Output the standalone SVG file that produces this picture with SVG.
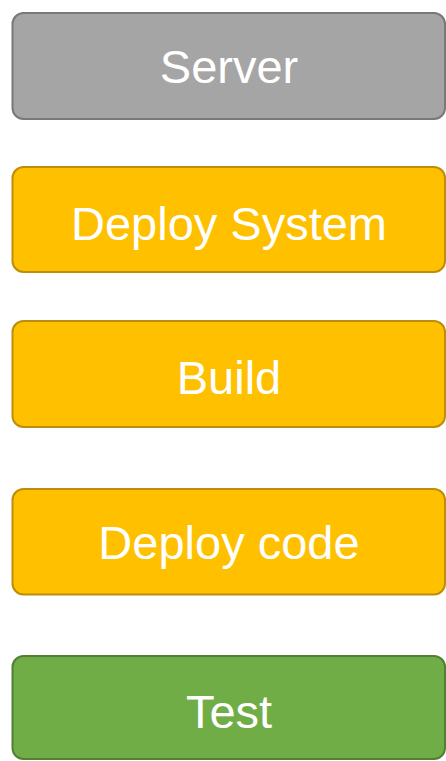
<svg xmlns="http://www.w3.org/2000/svg" width="446" height="761" viewBox="0 0 446 761">
<style>
.box{stroke-width:2}
.gray{fill:#a5a5a5;stroke:#787878}
.yel{fill:#ffc000;stroke:#bc8e0a}
.grn{fill:#70ad47;stroke:#517f33}
.lbl{font-family:"Liberation Sans",Arial,sans-serif;font-size:47px;fill:#ffffff;text-anchor:middle}
</style>
<g id="connectors"></g>
<g id="server"><rect class="box gray" x="12.5" y="13" width="432.5" height="106" rx="11"/><text class="lbl" x="229" y="83">Server</text></g>
<g id="deploy-system"><rect class="box yel" x="12.5" y="167" width="432.5" height="105" rx="11"/><text class="lbl" x="229" y="239.5">Deploy System</text></g>
<g id="build"><rect class="box yel" x="12.5" y="321" width="432.5" height="106" rx="11"/><text class="lbl" x="229" y="393.5">Build</text></g>
<g id="deploy-code"><rect class="box yel" x="12.5" y="489" width="432.5" height="105.5" rx="11"/><text class="lbl" x="229" y="559">Deploy code</text></g>
<g id="test"><rect class="box grn" x="12.5" y="656" width="432.5" height="103" rx="11"/><text class="lbl" x="229" y="727.5">Test</text></g>
</svg>
